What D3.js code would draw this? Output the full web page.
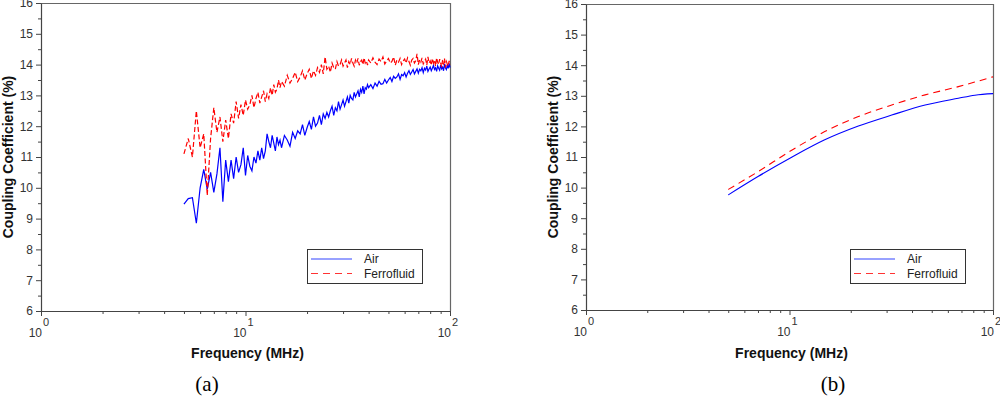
<!DOCTYPE html>
<html>
<head>
<meta charset="utf-8">
<script src="https://cdn.jsdelivr.net/npm/d3@7"></script>
<style>
  body { margin: 0; background: #fff; }
  svg { display: block; font-family: "Liberation Sans", Arial, sans-serif; }
</style>
</head>
<body>
<svg id="chart" width="1000" height="399"></svg>
<script>
// panel (a): measured, frequency in MHz
const freqA = [
  5, 5.25, 5.5, 5.75, 6, 6.25, 6.5, 6.75, 7, 7.25,
  7.5, 7.75, 8, 8.25, 8.5, 8.75, 9, 9.25, 9.5, 9.75,
  10, 10.25, 10.5, 10.75, 11, 11.25, 11.5, 11.75, 12, 12.25,
  12.5, 12.75, 13, 13.25, 13.5, 13.75, 14, 14.25, 14.5, 14.75,
  15, 15.5, 16, 16.5, 17, 17.5, 18, 18.5, 19, 19.5,
  20, 20.5, 21, 21.5, 22, 22.5, 23, 23.5, 24, 24.5,
  25, 25.5, 26, 26.5, 27, 27.5, 28, 28.5, 29, 29.5,
  30, 30.5, 31, 31.5, 32, 32.5, 33, 33.5, 34, 34.5,
  35, 35.5, 36, 36.5, 37, 37.5, 38, 38.5, 39, 39.5,
  40, 41, 42, 43, 44, 45, 46, 47, 48, 49,
  50, 51, 52, 53, 54, 55, 56, 57, 58, 59,
  60, 61, 62, 63, 64, 65, 66, 67, 68, 69,
  70, 71, 72, 73, 74, 75, 76, 77, 78, 79,
  80, 81, 82, 83, 84, 85, 86, 87, 88, 89,
  90, 91, 92, 93, 94, 95, 96, 97, 98, 99,
  100
];
const airA = [
  9.47, 9.65, 9.68, 8.85, 10.0, 10.6, 9.95, 10.5, 9.85, 10.45,
  11.3, 9.55, 10.9, 10.2, 10.9, 10.3, 11.0, 10.5, 10.75, 11.3,
  10.4, 11.05, 10.7, 10.55, 11.0, 10.8, 11.2, 10.9, 11.3, 10.95,
  11.2, 11.75, 11.5, 11.3, 11.7, 11.45, 11.2, 11.65, 11.4, 11.55,
  11.3, 11.7, 11.55, 11.35, 11.8, 11.6, 11.85, 11.75, 12.05, 11.7,
  11.95, 12.15, 11.9, 12.3, 12.0, 12.1, 12.35, 12.05, 12.4, 12.25,
  12.45, 12.3, 12.5, 12.65, 12.35, 12.6, 12.5, 12.8, 12.55, 12.7,
  12.85, 12.65, 12.8, 12.95, 12.75, 13.0, 12.9, 12.85, 13.1, 12.95,
  13.05, 13.15, 12.95, 13.2, 13.1, 13.3, 13.05, 13.25, 13.2, 13.35,
  13.25, 13.35, 13.22, 13.4, 13.3, 13.46, 13.36, 13.38, 13.52, 13.4,
  13.5, 13.58, 13.45, 13.62, 13.55, 13.6, 13.7, 13.52, 13.68, 13.64,
  13.74, 13.6, 13.72, 13.8, 13.68, 13.76, 13.84, 13.7, 13.78, 13.86,
  13.72, 13.85, 13.8, 13.9, 13.74, 13.88, 13.82, 13.95, 13.78, 13.86,
  13.92, 13.8, 13.88, 13.97, 13.84, 13.9, 13.78, 13.96, 13.88, 13.82,
  13.98, 13.86, 13.92, 13.8, 14.02, 13.9, 13.84, 13.98, 13.88, 14.04,
  13.9
];
const ferroA = [
  11.1, 11.6, 11.0, 12.5, 11.3, 11.75, 9.75, 11.6, 12.6, 11.8,
  12.3, 11.5, 12.2, 11.6, 12.4, 12.1, 12.8, 12.25, 12.7, 12.35,
  12.85, 12.55, 12.7, 13.0, 12.6, 12.9, 13.1, 12.75, 12.95, 13.15,
  12.8, 13.05, 12.9, 13.25, 13.0, 13.35, 13.1, 13.2, 13.5, 13.25,
  13.45, 13.3, 13.65, 13.4, 13.55, 13.75, 13.45, 13.6, 13.8, 13.5,
  13.7, 13.85, 13.55, 13.8, 13.65, 13.9, 13.75, 14.0, 13.7, 14.25,
  13.85, 13.95, 13.75, 14.05, 13.9, 13.85, 14.1, 13.95, 14.0, 14.15,
  13.95, 14.05, 14.15, 13.9, 14.1, 14.0, 14.2, 14.05, 13.95, 14.15,
  14.05, 14.2, 13.98, 14.1, 14.15, 14.0, 14.22, 14.05, 14.12, 13.98,
  14.15, 14.05, 14.22, 14.08, 14.0, 14.18, 14.1, 14.25, 14.02, 14.12,
  14.2, 14.05, 14.1, 14.25, 13.98, 14.15, 14.08, 14.2, 14.0, 14.12,
  14.18, 14.05, 14.22, 14.1, 13.98, 14.15, 14.2, 14.05, 14.12, 14.35,
  14.0, 14.15, 14.08, 14.22, 14.02, 14.1, 14.18, 13.98, 14.25, 14.05,
  14.12, 13.98, 14.2, 14.05, 14.15, 13.95, 14.22, 14.08, 14.0, 14.18,
  14.05, 13.92, 14.15, 14.0, 14.2, 13.9, 14.1, 14.02, 13.95, 14.12,
  13.98
];

// panel (b): simulated
const freqB  = [5, 7, 10.3, 14.9, 21.8, 31.8, 46.4, 67.6, 81.5, 100];
const airB   = [9.76, 10.36, 11.0, 11.56, 12.01, 12.37, 12.7, 12.92, 13.02, 13.07];
const ferroB = [9.94, 10.52, 11.23, 11.83, 12.32, 12.7, 13.03, 13.3, 13.45, 13.62];

const yMajor = [6, 7, 8, 9, 10, 11, 12, 13, 14, 15, 16];
const yMinor = [6.5, 7.5, 8.5, 9.5, 10.5, 11.5, 12.5, 13.5, 14.5, 15.5];
const xDecades = [1, 10, 100];
const xExponents = ['0', '1', '2'];
const xMinor = [2, 3, 4, 5, 6, 7, 8, 9, 20, 30, 40, 50, 60, 70, 80, 90];
const seriesNames = ['Air', 'Ferrofluid'];

const svg = d3.select('#chart');

function zip(f, v) {
  return f.map((d, i) => [d, v[i]]);
}

function drawPanel(p) {
  const g = svg.append('g');

  const x = d3.scaleLog().domain([1, 100]).range([p.left, p.right]);
  const y = d3.scaleLinear().domain([6, 16]).range([p.bottom, p.top]);

  // frame top / right
  g.append('path')
    .attr('d', `M${p.left},${p.top + 0.5}H${p.right + 0.5}V${p.bottom}`)
    .attr('fill', 'none')
    .attr('stroke', '#666')
    .attr('stroke-width', 1.2);

  // y axis
  const yAx = g.append('g')
    .attr('transform', `translate(${p.left},0)`)
    .call(d3.axisLeft(y).tickValues(yMajor).tickSize(5).tickSizeOuter(0).tickPadding(3));
  yAx.select('.domain').attr('stroke', '#444').attr('stroke-width', 1.2);
  yAx.selectAll('.tick line').attr('stroke', '#444');
  yAx.selectAll('.tick text')
    .attr('fill', '#333')
    .style('font-size', '12px')
    .style('font-family', '"Liberation Sans", Arial, sans-serif');

  g.append('g')
    .attr('transform', `translate(${p.left},0)`)
    .call(d3.axisLeft(y).tickValues(yMinor).tickSize(3).tickFormat(''))
    .call(a => a.select('.domain').remove())
    .selectAll('.tick line').attr('stroke', '#444');

  // x axis
  const xAx = g.append('g')
    .attr('transform', `translate(0,${p.bottom})`)
    .call(d3.axisBottom(x).tickValues(xDecades).tickSize(5).tickSizeOuter(0).tickFormat(''));
  xAx.select('.domain').attr('stroke', '#444').attr('stroke-width', 1.2);
  xAx.selectAll('.tick line').attr('stroke', '#444');

  g.append('g')
    .attr('transform', `translate(0,${p.bottom})`)
    .call(d3.axisBottom(x).tickValues(xMinor).tickSize(3).tickFormat(''))
    .call(a => a.select('.domain').remove())
    .selectAll('.tick line').attr('stroke', '#444');

  // 10^n labels
  const lab = g.append('g').attr('fill', '#333').style('font-size', '12px');
  xDecades.forEach((d, i) => {
    lab.append('text')
      .attr('x', x(d) + 1)
      .attr('y', p.bottom + 26)
      .attr('text-anchor', 'end')
      .text('10');
    lab.append('text')
      .attr('x', x(d) + 2)
      .attr('y', p.bottom + 15)
      .style('font-size', '11px')
      .text(xExponents[i]);
  });

  // axis titles
  g.append('text')
    .attr('x', (p.left + p.right) / 2 + 2)
    .attr('y', 358)
    .attr('text-anchor', 'middle')
    .attr('fill', '#111')
    .style('font-size', '14px')
    .style('font-weight', 'bold')
    .text('Frequency (MHz)');

  g.append('text')
    .attr('transform', `translate(${p.left - 28},${(p.top + p.bottom) / 2}) rotate(-90)`)
    .attr('text-anchor', 'middle')
    .attr('fill', '#111')
    .style('font-size', '14px')
    .style('font-weight', 'bold')
    .text('Coupling Coefficient (%)');

  g.append('text')
    .attr('x', p.letterX)
    .attr('y', 391)
    .attr('text-anchor', 'middle')
    .attr('fill', '#000')
    .style('font-family', '"Liberation Serif", "Times New Roman", serif')
    .style('font-size', '21px')
    .text(p.letter);

  // curves
  const line = d3.line()
    .x(d => x(d[0]))
    .y(d => y(d[1]))
    .curve(p.curve);

  g.append('path')
    .datum(zip(p.freq, p.air))
    .attr('d', line)
    .attr('fill', 'none')
    .attr('stroke', '#0000ff')
    .attr('stroke-width', p.width);

  g.append('path')
    .datum(zip(p.freq, p.ferro))
    .attr('d', line)
    .attr('fill', 'none')
    .attr('stroke', '#ff0000')
    .attr('stroke-width', p.width)
    .attr('stroke-dasharray', p.dash);

  // legend
  const lx = p.right - 143, ly = 249;
  const leg = g.append('g');
  leg.append('rect')
    .attr('x', lx + 0.5).attr('y', ly + 0.5)
    .attr('width', 115).attr('height', 34)
    .attr('fill', '#fff')
    .attr('stroke', '#333');
  const colors = ['#3344ff', '#ff3333'];
  const dashes = [null, '7,5'];
  seriesNames.forEach((name, i) => {
    const yy = ly + 10 + i * 14.5;
    leg.append('line')
      .attr('x1', lx + 4).attr('x2', lx + 45)
      .attr('y1', yy).attr('y2', yy)
      .attr('stroke', colors[i])
      .attr('stroke-width', 1.1)
      .attr('stroke-dasharray', dashes[i]);
    leg.append('text')
      .attr('x', lx + 57)
      .attr('y', yy + 4)
      .attr('fill', '#222')
      .style('font-size', '12px')
      .text(name);
  });
}

drawPanel({
  left: 41, right: 450, top: 3, bottom: 311,
  freq: freqA, air: airA, ferro: ferroA,
  curve: d3.curveLinear, dash: '5,2.5', width: 1.2,
  letter: '(a)', letterX: 207
});

drawPanel({
  left: 586, right: 993, top: 4, bottom: 310,
  freq: freqB, air: airB, ferro: ferroB,
  curve: d3.curveMonotoneX, dash: '7,5', width: 1.1,
  letter: '(b)', letterX: 833
});
</script>
</body>
</html>
